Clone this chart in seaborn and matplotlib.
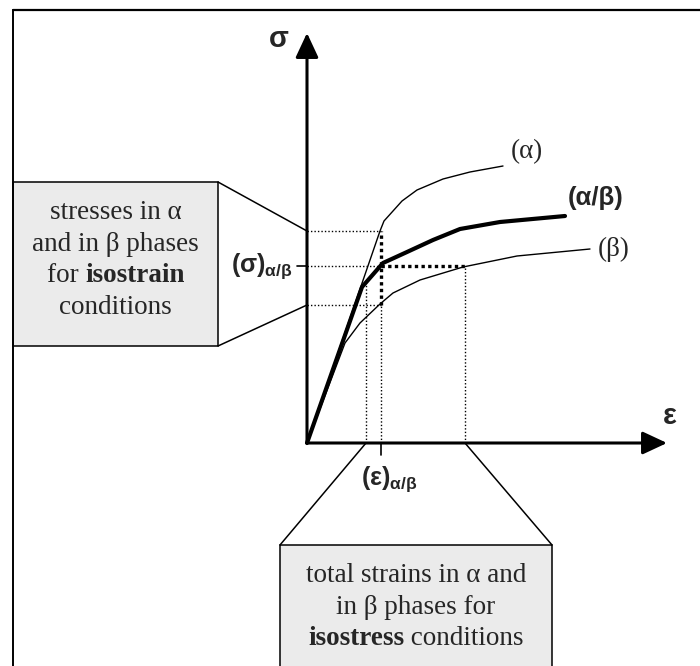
import matplotlib
matplotlib.use('Agg')
import matplotlib.pyplot as plt
import seaborn as sns
from matplotlib.patches import Rectangle

# stress-strain curves (origin = axes corner, units ~ pixels)
alpha_eps = [0, 73, 77, 95, 110, 136, 163, 196]
alpha_sig = [0, 212, 222, 242, 253, 264, 271, 277]
ab_eps = [0, 55, 76, 100, 126, 153, 193, 258]
ab_sig = [0, 156, 180, 191, 203, 214, 221, 227]
beta_eps = [0, 38, 53, 73, 86, 113, 156, 210, 283]
beta_sig = [0, 100, 120, 139, 150, 163, 176, 187, 194]

# construction levels
sig_alpha, sig_ab, sig_beta = 212, 177, 138
eps_alpha, eps_ab, eps_beta = 59, 74, 158
eps_alpha_top = 161

curve_labels = ['(α)', '(α/β)', '(β)']
box_left = ['stresses in α', 'and in β phases', [('for ', 'normal'), ('isostrain', 'bold')], 'conditions']
box_bottom = ['total strains in α and', 'in β phases for', [('isostress', 'bold'), (' conditions', 'normal')]]

sns.set_style('white')
plt.rcParams['mathtext.fontset'] = 'custom'
plt.rcParams['mathtext.bf'] = 'Liberation Sans:bold'
plt.rcParams['mathtext.rm'] = 'Liberation Sans'

fig = plt.figure(figsize=(7, 6.66), dpi=100)
ax = fig.add_axes([0, 0, 1, 1])
ax.set_xlim(-307, 393)
ax.set_ylim(-223, 443)
ax.axis('off')

# outer frame (top and left edges only visible)
ax.plot([-294, 400], [433, 433], color='black', lw=1.6)
ax.plot([-294, -294], [433, -230], color='black', lw=1.4)

# callout boxes
ax.add_patch(Rectangle((-294, 97), 205, 164, facecolor='#ebebeb', edgecolor='black', lw=1.1))
ax.add_patch(Rectangle((-27, -240), 272, 138, facecolor='#ebebeb', edgecolor='black', lw=1.1))
ax.plot([-89, 0], [261, sig_alpha], color='black', lw=1.1)
ax.plot([-89, 0], [97, sig_beta], color='black', lw=1.1)
ax.plot([-27, eps_alpha], [-102, 0], color='black', lw=1.1)
ax.plot([245, eps_beta], [-102, 0], color='black', lw=1.1)

# dotted construction lines
thin = dict(color='black', lw=1.0, ls=(0, (1, 1.5)))
thick = dict(color='black', lw=2.4, ls=(0, (1, 1)))
ax.plot([0, eps_ab], [sig_alpha, sig_alpha], **thin)
ax.plot([0, eps_ab], [sig_beta, sig_beta], **thin)
ax.plot([0, eps_ab], [sig_ab, sig_ab], **thin)
ax.plot([eps_ab, eps_beta], [sig_ab, sig_ab], **thick)
ax.plot([eps_ab, eps_ab], [0, sig_beta], **thin)
ax.plot([eps_ab, eps_ab], [sig_beta, sig_alpha], **thick)
ax.plot([eps_alpha, eps_alpha], [0, eps_alpha_top], **thin)
ax.plot([eps_beta, eps_beta], [0, sig_ab], **thin)

# curves
sns.lineplot(x=alpha_eps, y=alpha_sig, ax=ax, color='black', lw=1.0, sort=False)
sns.lineplot(x=beta_eps, y=beta_sig, ax=ax, color='black', lw=1.0, sort=False)
sns.lineplot(x=ab_eps, y=ab_sig, ax=ax, color='black', lw=3.0, sort=False)

# axes with arrows
arrow = dict(arrowstyle='-|>,head_length=1.5,head_width=0.7', color='black', lw=2.2, shrinkA=0, shrinkB=0)
ax.annotate('', xy=(0, 410), xytext=(0, 0), arrowprops=arrow)
ax.annotate('', xy=(360, 0), xytext=(0, 0), arrowprops=arrow)
ax.plot([-10, 0], [sig_ab, sig_ab], color='black', lw=1.2)
ax.plot([eps_ab, eps_ab], [0, -12], color='black', lw=1.2)

ax.text(-28, 404, 'σ', fontsize=21, fontfamily='Liberation Sans', fontweight='bold', ha='center', va='center')
ax.text(363, 27, 'ε', fontsize=21, fontfamily='Liberation Sans', fontweight='bold', ha='center', va='center')
ax.text(-14, sig_ab, r'$\mathbf{(σ)_{α/β}}$', fontsize=18, ha='right', va='center')
ax.text(eps_ab + 8, -36, r'$\mathbf{(ε)_{α/β}}$', fontsize=18, ha='center', va='center')

ax.text(220, 291, curve_labels[0], fontsize=19.5, fontfamily='Liberation Serif', ha='center', va='center')
ax.text(289, 245, curve_labels[1], fontsize=18.5, fontfamily='Liberation Sans', fontweight='bold', ha='center', va='center')
ax.text(307, 194, curve_labels[2], fontsize=19.5, fontfamily='Liberation Serif', ha='center', va='center')

# box texts (mixed weight lines are laid out piece by piece)
fig.canvas.draw()
renderer = fig.canvas.get_renderer()


def write_lines(lines, xc, y0, step, size):
    for i, line in enumerate(lines):
        y = y0 - i * step
        if isinstance(line, str):
            ax.text(xc, y, line, fontsize=size, fontfamily='Liberation Serif', ha='center', va='baseline')
            continue
        parts = []
        for s, w in line:
            t = ax.text(0, y, s.replace(' ', '\u00a0'), fontsize=size, fontfamily='Liberation Serif',
                        fontweight=w, ha='left', va='baseline')
            parts.append(t)
        widths = [t.get_window_extent(renderer).width for t in parts]
        x = xc - sum(widths) / 2
        for t, w in zip(parts, widths):
            t.set_x(x)
            x += w


write_lines(box_left, -191.5, 224, 31.7, 19.5)
write_lines(box_bottom, 109, -139, 31.7, 19.5)

fig.savefig('out.png', dpi=100)
